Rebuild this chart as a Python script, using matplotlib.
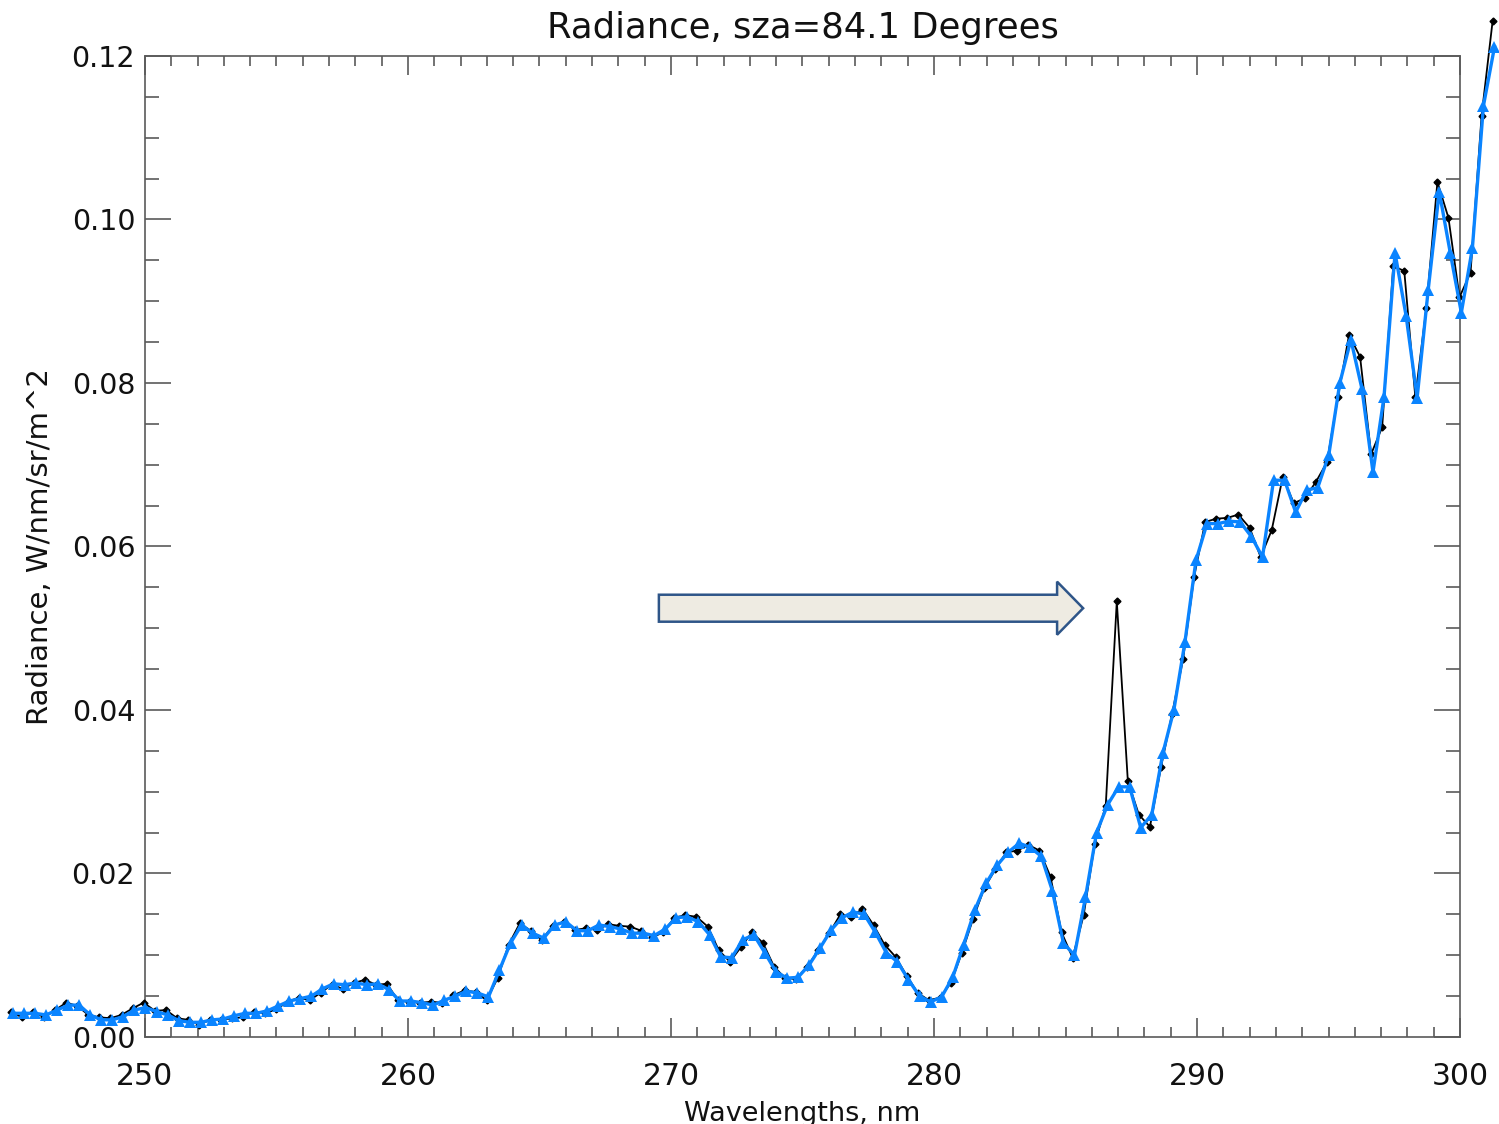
import matplotlib.pyplot as plt
from matplotlib.ticker import MultipleLocator, FormatStrFormatter
from matplotlib.patches import FancyArrow

# wavelength grid, nm
wavelengths = [
    244.98, 245.40, 245.82, 246.24, 246.66, 247.08, 247.50, 247.92, 248.34, 248.76,
    249.18, 249.60, 250.02, 250.45, 250.87, 251.29, 251.71, 252.13, 252.55, 252.97,
    253.39, 253.81, 254.23, 254.65, 255.07, 255.49, 255.91, 256.33, 256.75, 257.17,
    257.59, 258.01, 258.43, 258.85, 259.27, 259.69, 260.11, 260.53, 260.96, 261.38,
    261.80, 262.22, 262.64, 263.06, 263.48, 263.90, 264.32, 264.74, 265.16, 265.58,
    266.00, 266.42, 266.84, 267.26, 267.68, 268.10, 268.52, 268.94, 269.36, 269.78,
    270.20, 270.62, 271.04, 271.47, 271.89, 272.31, 272.73, 273.15, 273.57, 273.99,
    274.41, 274.83, 275.25, 275.67, 276.09, 276.51, 276.93, 277.35, 277.77, 278.19,
    278.61, 279.03, 279.45, 279.87, 280.29, 280.71, 281.13, 281.55, 281.98, 282.40,
    282.82, 283.24, 283.66, 284.08, 284.50, 284.92, 285.34, 285.76, 286.18, 286.60,
    287.02, 287.44, 287.86, 288.28, 288.70, 289.12, 289.54, 289.96, 290.38, 290.80,
    291.22, 291.64, 292.07, 292.49, 292.91, 293.33, 293.75, 294.17, 294.59, 295.01,
    295.43, 295.85, 296.27, 296.69, 297.11, 297.53, 297.95, 298.37, 298.79, 299.21,
    299.63, 300.05, 300.47, 300.89, 301.31,
]

# measured radiance (black, diamonds)
rad_measured = [
    0.0031, 0.0024, 0.0031, 0.0024, 0.0033, 0.0042, 0.0038, 0.0027, 0.0024, 0.0023,
    0.0027, 0.0035, 0.0042, 0.0032, 0.0033, 0.0023, 0.0021, 0.0015, 0.0021, 0.0021,
    0.0023, 0.0024, 0.0031, 0.0029, 0.0034, 0.0043, 0.0048, 0.0045, 0.0054, 0.0064,
    0.0059, 0.0066, 0.0070, 0.0064, 0.0065, 0.0045, 0.0043, 0.0042, 0.0043, 0.0042,
    0.0051, 0.0057, 0.0055, 0.0045, 0.0072, 0.0113, 0.0139, 0.0130, 0.0119, 0.0136,
    0.0141, 0.0131, 0.0133, 0.0131, 0.0138, 0.0136, 0.0135, 0.0130, 0.0122, 0.0128,
    0.0146, 0.0149, 0.0147, 0.0135, 0.0106, 0.0092, 0.0110, 0.0128, 0.0115, 0.0086,
    0.0072, 0.0071, 0.0086, 0.0106, 0.0127, 0.0150, 0.0147, 0.0157, 0.0137, 0.0113,
    0.0098, 0.0075, 0.0054, 0.0045, 0.0048, 0.0066, 0.0103, 0.0144, 0.0182, 0.0205,
    0.0226, 0.0228, 0.0235, 0.0228, 0.0196, 0.0128, 0.0097, 0.0149, 0.0236, 0.0283,
    0.0533, 0.0313, 0.0272, 0.0257, 0.0330, 0.0395, 0.0462, 0.0563, 0.0630, 0.0634,
    0.0635, 0.0639, 0.0623, 0.0587, 0.0620, 0.0685, 0.0653, 0.0659, 0.0679, 0.0703,
    0.0783, 0.0859, 0.0832, 0.0713, 0.0746, 0.0943, 0.0937, 0.0783, 0.0892, 0.1046,
    0.1002, 0.0905, 0.0935, 0.1127, 0.1243,
]

# corrected radiance (blue, triangles)
rad_corrected = [
    0.0029, 0.0029, 0.0029, 0.0027, 0.0033, 0.0039, 0.0039, 0.0027, 0.0021, 0.0021,
    0.0025, 0.0033, 0.0036, 0.0031, 0.0027, 0.0020, 0.0018, 0.0018, 0.0021, 0.0022,
    0.0026, 0.0029, 0.0029, 0.0032, 0.0038, 0.0044, 0.0047, 0.0050, 0.0059, 0.0065,
    0.0064, 0.0066, 0.0064, 0.0065, 0.0058, 0.0044, 0.0044, 0.0042, 0.0039, 0.0045,
    0.0050, 0.0056, 0.0054, 0.0049, 0.0082, 0.0115, 0.0137, 0.0127, 0.0121, 0.0137,
    0.0141, 0.0130, 0.0130, 0.0137, 0.0135, 0.0132, 0.0127, 0.0127, 0.0124, 0.0132,
    0.0146, 0.0147, 0.0141, 0.0125, 0.0098, 0.0097, 0.0119, 0.0125, 0.0103, 0.0080,
    0.0072, 0.0073, 0.0088, 0.0109, 0.0131, 0.0146, 0.0153, 0.0150, 0.0128, 0.0103,
    0.0092, 0.0070, 0.0050, 0.0043, 0.0049, 0.0073, 0.0113, 0.0155, 0.0188, 0.0210,
    0.0226, 0.0237, 0.0232, 0.0221, 0.0179, 0.0115, 0.0100, 0.0171, 0.0250, 0.0284,
    0.0306, 0.0306, 0.0256, 0.0272, 0.0347, 0.0400, 0.0483, 0.0583, 0.0628, 0.0628,
    0.0631, 0.0630, 0.0612, 0.0587, 0.0681, 0.0681, 0.0642, 0.0669, 0.0672, 0.0712,
    0.0800, 0.0853, 0.0793, 0.0691, 0.0783, 0.0959, 0.0882, 0.0782, 0.0914, 0.1034,
    0.0959, 0.0886, 0.0965, 0.1139, 0.1211,
]

BLACK_SHIFT = -0.07  # measured samples sit slightly left of the corrected ones
AXIS_GREY = '#5a5a5a'
TEXT_COL = '#111111'


def main():
    plt.rcParams['font.family'] = ['DejaVu Sans']
    fig = plt.figure(figsize=(14.99, 11.24), dpi=100)
    ax = fig.add_axes([0.0967, 0.0774, 0.8773, 0.8728])

    wl_black = [w + BLACK_SHIFT for w in wavelengths]
    ax.plot(wl_black, rad_measured, color='black', linewidth=1.3,
            marker='D', markersize=3.5, clip_on=False, zorder=3)
    ax.plot(wavelengths, rad_corrected, color='#0a84ff', linewidth=2.4,
            marker='^', markersize=8, markeredgewidth=0, clip_on=False, zorder=4)

    # block arrow pointing at the spike
    arrow = FancyArrow(269.54, 0.05245, 16.13, 0.0, width=0.0033,
                       head_width=0.0065, head_length=0.99,
                       length_includes_head=True, facecolor='#eeebe2',
                       edgecolor='#2e5588', linewidth=1.8, zorder=5)
    ax.add_patch(arrow)

    ax.set_xlim(250, 300)
    ax.set_ylim(0.0, 0.12)
    ax.xaxis.set_major_locator(MultipleLocator(10))
    ax.xaxis.set_minor_locator(MultipleLocator(1))
    ax.yaxis.set_major_locator(MultipleLocator(0.02))
    ax.yaxis.set_minor_locator(MultipleLocator(0.005))
    ax.yaxis.set_major_formatter(FormatStrFormatter('%.2f'))

    ax.tick_params(axis='both', which='both', direction='in',
                   top=True, right=True, color=AXIS_GREY, width=1.2,
                   labelcolor=TEXT_COL)
    ax.tick_params(axis='x', which='major', length=14, pad=18, labelsize=21.5)
    ax.tick_params(axis='x', which='minor', length=7)
    ax.tick_params(axis='y', which='major', length=19, pad=7, labelsize=20.5)
    ax.tick_params(axis='y', which='minor', length=10)
    for side in ax.spines.values():
        side.set_color(AXIS_GREY)
        side.set_linewidth(1.2)

    ax.set_title('Radiance, sza=84.1 Degrees', fontsize=25.5, pad=13,
                 color=TEXT_COL)
    ax.set_xlabel('Wavelengths, nm', fontsize=19.5, labelpad=7, color=TEXT_COL)
    ax.set_ylabel('Radiance, W/nm/sr/m^2', fontsize=21, labelpad=13,
                  color=TEXT_COL)

    fig.savefig('out.png', dpi=100)
    plt.close(fig)


if __name__ == '__main__':
    main()
